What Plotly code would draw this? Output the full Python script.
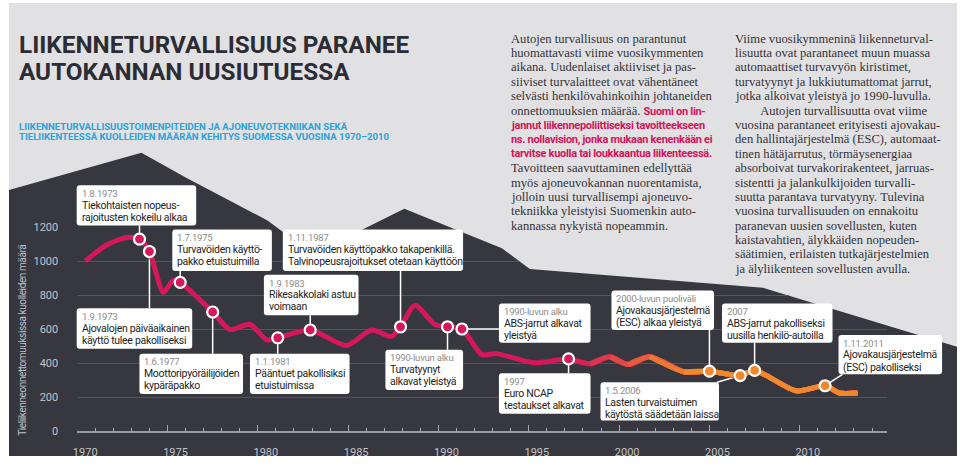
import plotly.graph_objects as go

W, H = 960, 468

# ---------------- data ----------------
years = [1970.45, 1971.6, 1972.75, 1973.45, 1974.0, 1974.77, 1975.3, 1975.7, 1977.5,
         1978.45, 1979.55, 1980.5, 1981.1, 1982.9, 1984.9, 1986.3, 1987.4, 1987.9,
         1988.7, 1989.8, 1990.5, 1991.3, 1992.4, 1993.2, 1995.3, 1997.2, 1998.4,
         1999.5, 2000.5, 2001.7, 2003.6, 2005.0, 2006.7, 2007.5, 2009.8, 2011.4,
         2012.2, 2013.2]
deaths = [1003, 1096, 1142, 1132, 1059, 819, 887, 877, 703,
          600, 631, 539, 551, 597, 506, 597, 559, 616,
          742, 630, 616, 603, 452, 458, 404, 427, 398,
          439, 394, 439, 350, 355, 329, 359, 239, 269,
          226, 226]

event_years = [1973.45, 1974.0, 1975.7, 1977.5, 1981.1, 1982.9, 1987.9,
               1990.5, 1991.3, 1997.2, 2005.0, 2006.7, 2007.5, 2011.4]
event_values = [1132, 1059, 877, 703, 551, 597, 616,
                616, 603, 427, 355, 329, 359, 269]
event_dates = ["1.8.1973", "1.9.1973", "1.7.1975", "1.6.1977", "1.1.1981", "1.9.1983",
               "1.11.1987", "1990-luvun alku", "1990-luvun alku", "1997",
               "2000-luvun puoliväli", "1.5.2006", "2007", "1.11.2011"]
event_lines = [
    ["Tiekohtaisten nopeus-", "rajoitusten kokeilu alkaa"],
    ["Ajovalojen päiväaikainen", "käyttö tulee pakolliseksi"],
    ["Turvavöiden käyttö-", "pakko etuistuimilla"],
    ["Moottoripyöräilijöiden", "kypäräpakko"],
    ["Pääntuet pakollisiksi", "etuistuimissa"],
    ["Rikesakkolaki astuu", "voimaan"],
    ["Turvavöiden käyttöpakko takapenkillä.", "Talvinopeusrajoitukset otetaan käyttöön"],
    ["Turvatyynyt", "alkavat yleistyä"],
    ["ABS-jarrut alkavat", "yleistyä"],
    ["Euro NCAP", "testaukset alkavat"],
    ["Ajovakausjärjestelmä", "(ESC) alkaa yleistyä"],
    ["Lasten turvaistuimen", "käytöstä säädetään laissa"],
    ["ABS-jarrut pakolliseksi", "uusilla henkilö-autoilla"],
    ["Ajovakausjärjestelmä", "(ESC) pakolliseksi"],
]

y_tick_values = [0, 200, 400, 600, 800, 1000, 1200]
y_tick_labels = ["0", "200", "400", "600", "800", "1000", "1200"]
grid_values = [200, 400, 600, 800, 1000]
x_tick_start, x_tick_step = 1970, 5

title_lines = ["LIIKENNETURVALLISUUS PARANEE", "AUTOKANNAN UUSIUTUESSA"]
subtitle_lines = ["LIIKENNETURVALLISUUSTOIMENPITEIDEN JA AJONEUVOTEKNIIKAN SEKÄ",
                  "TIELIIKENTEESSÄ KUOLLEIDEN MÄÄRÄN KEHITYS SUOMESSA VUOSINA 1970–2010"]
y_title = "Tieliikenneonnettomuuksissa kuolleiden määrä"

PINK_TXT = ("<b><span style='font-family:Roboto;font-size:11px;letter-spacing:-0.3px;"
            "color:#d4145a'>{}</span></b>")
col1 = [
    "Autojen turvallisuus on parantunut",
    "huomattavasti viime vuosikymmenten",
    "aikana. Uudenlaiset aktiiviset ja pas-",
    "siiviset turvalaitteet ovat vähentäneet",
    "selvästi henkilövahinkoihin johtaneiden",
    "onnettomuuksien määrää. " + PINK_TXT.format("Suomi on lin-"),
    PINK_TXT.format("jannut liikennepoliittiseksi tavoitteekseen"),
    PINK_TXT.format("ns. nollavision, jonka mukaan kenenkään ei"),
    PINK_TXT.format("tarvitse kuolla tai loukkaantua liikenteessä."),
    "Tavoitteen saavuttaminen edellyttää",
    "myös ajoneuvokannan nuorentamista,",
    "jolloin uusi turvallisempi ajoneuvo-",
    "tekniikka yleistyisi Suomenkin auto-",
    "kannassa nykyistä nopeammin.",
]
col2 = [
    "Viime vuosikymmeninä liikenneturval-",
    "lisuutta ovat parantaneet muun muassa",
    "automaattiset turvavyön kiristimet,",
    "turvatyynyt ja lukkiutumattomat jarrut,",
    "jotka alkoivat yleistyä jo 1990-luvulla.",
    "\u2003\u2003Autojen turvallisuutta ovat viime",
    "vuosina parantaneet erityisesti ajovakau-",
    "den hallintajärjestelmä (ESC), automaat-",
    "tinen hätäjarrutus, törmäysenergiaa",
    "absorboivat turvakorirakenteet, jarruas-",
    "sistentti ja jalankulkijoiden turvalli-",
    "suutta parantava turvatyyny. Tulevina",
    "vuosina turvallisuuden on ennakoitu",
    "paranevan uusien sovellusten, kuten",
    "kaistavahtien, älykkäiden nopeuden-",
    "säätimien, erilaisten tutkajärjestelmien",
    "ja älyliikenteen sovellusten avulla.",
]

# ---------------- layout geometry (pixels) ----------------
X_DOM_PX = (73.5, 887.0)
PX_PER_YEAR = 18.14
X_RANGE = [1970, 1970 + (X_DOM_PX[1] - X_DOM_PX[0]) / PX_PER_YEAR]
Y_ZERO_PX = 438.0
PX_PER_UNIT = 0.1725
Y_RANGE = [0, Y_ZERO_PX / PX_PER_UNIT]

def px(x):
    return x / W

def py(y):
    return 1 - y / H

def data_y_from_px(ypix):
    return (Y_ZERO_PX - ypix) / PX_PER_UNIT

def px_from_data_y(v):
    return Y_ZERO_PX - v * PX_PER_UNIT

def data_x_from_px(xpix):
    return X_RANGE[0] + (xpix - X_DOM_PX[0]) / PX_PER_YEAR

def cond(text, ls):
    return f"<span style='letter-spacing:{ls}px'>{text}</span>"

# dark silhouette top edge (pixels)
SIL_TOP = [(5, 193), (138, 155), (182, 180), (265, 224), (310, 258), (402, 212),
           (500, 252), (528, 273), (762, 292), (957, 352)]

def sil_top_at(x):
    for (xa, ya), (xb, yb) in zip(SIL_TOP[:-1], SIL_TOP[1:]):
        if xa <= x <= xb:
            return ya + (yb - ya) * (x - xa) / (xb - xa)
    return SIL_TOP[-1][1]

# box rectangles: left, top, right, bottom ; connector kind, target
boxes = [
    (73, 188, 193, 229, "v", 229),
    (73, 313, 189, 354, "v", 313),
    (169, 233, 269, 275, "v", 275),
    (136, 359, 240, 400, "v", 359),
    (247, 359, 347, 400, "v", 359),
    (261, 279, 356, 320, "v", 320),
    (280, 233, 461, 275, "v", 275),
    (383, 355, 461, 396, "v", 355),
    (497, 308, 589, 348, "h", 497),
    (497, 379, 589, 420, "v", 379),
    (610, 295, 713, 335, "v", 335),
    (599, 388, 718, 427, "d", (716, 388)),
    (721, 308, 832, 348, "v", 348),
    (838, 340, 942, 380, "d", (842, 380)),
]

PINK = (214, 23, 90)
ORANGE = (240, 137, 43)
GRAD_START, GRAD_END = 1997.2, 2003.6

def color_at(yr):
    t = (yr - GRAD_START) / (GRAD_END - GRAD_START)
    t = max(0.0, min(1.0, t))
    c = [round(a + (b - a) * t) for a, b in zip(PINK, ORANGE)]
    return f"rgb({c[0]},{c[1]},{c[2]})"

fig = go.Figure()

# horizontal grid lines, only where they lie on the dark silhouette
gx, gy = [], []
for g in grid_values:
    yg = px_from_data_y(g)
    x = X_DOM_PX[0]
    start = None
    while x <= X_DOM_PX[1]:
        dark = sil_top_at(x) < yg
        if dark and start is None:
            start = x
        if (not dark or x + 0.5 > X_DOM_PX[1]) and start is not None:
            gx += [data_x_from_px(start), data_x_from_px(x), None]
            gy += [g, g, None]
            start = None
        x += 0.5
fig.add_trace(go.Scatter(x=gx, y=gy, mode="lines", line=dict(color="#55555e", width=1),
                         hoverinfo="skip", showlegend=False))

# connectors
cx, cy = [], []
for yr, val, b in zip(event_years, event_values, boxes):
    kind, tgt = b[4], b[5]
    if kind == "v":
        cx += [yr, yr, None]
        cy += [val, data_y_from_px(tgt), None]
    elif kind == "h":
        cx += [yr, data_x_from_px(tgt), None]
        cy += [val, val, None]
    else:
        cx += [yr, data_x_from_px(tgt[0]), None]
        cy += [val, data_y_from_px(tgt[1]), None]
fig.add_trace(go.Scatter(x=cx, y=cy, mode="lines", line=dict(color="white", width=1.5),
                         hoverinfo="skip", showlegend=False))

# main line (pink base + overlays for colour gradient)
LINE_W = 5
SMOOTH = 0.7
fig.add_trace(go.Scatter(x=years, y=deaths, mode="lines",
                         line=dict(color=color_at(1970), width=LINE_W, shape="spline", smoothing=SMOOTH),
                         showlegend=False, hoverinfo="skip"))
for i in range(len(years) - 1):
    if GRAD_START <= years[i] <= GRAD_END:
        mid = (years[i] + years[i + 1]) / 2 if years[i] < GRAD_END else years[i]
        fig.add_trace(go.Scatter(x=years[i:], y=deaths[i:], mode="lines",
                                 line=dict(color=color_at(mid), width=LINE_W,
                                           shape="spline", smoothing=SMOOTH),
                                 showlegend=False, hoverinfo="skip"))

# event markers
fig.add_trace(go.Scatter(x=event_years, y=event_values, mode="markers",
                         marker=dict(size=11, color=[color_at(y) for y in event_years],
                                     line=dict(color="white", width=2.2)),
                         showlegend=False, hoverinfo="skip"))

shapes = []
# light panel
shapes.append(dict(type="rect", xref="paper", yref="paper", x0=px(5), x1=px(957),
                   y0=py(463), y1=py(3), fillcolor="#e1e1e3", line=dict(width=0), layer="below"))
# dark silhouette
sil = SIL_TOP + [(957, 463), (5, 463)]
path = "M " + " L ".join(f"{px(a):.5f},{py(b):.5f}" for a, b in sil) + " Z"
shapes.append(dict(type="path", xref="paper", yref="paper", path=path,
                   fillcolor="#37373f", line=dict(width=0), layer="below"))

def rrect(x0, y0, x1, y1, r=3):
    return (f"M {px(x0+r)},{py(y0)} L {px(x1-r)},{py(y0)} Q {px(x1)},{py(y0)} {px(x1)},{py(y0+r)} "
            f"L {px(x1)},{py(y1-r)} Q {px(x1)},{py(y1)} {px(x1-r)},{py(y1)} "
            f"L {px(x0+r)},{py(y1)} Q {px(x0)},{py(y1)} {px(x0)},{py(y1-r)} "
            f"L {px(x0)},{py(y0+r)} Q {px(x0)},{py(y0)} {px(x0+r)},{py(y0)} Z")

for b in boxes:
    shapes.append(dict(type="path", xref="paper", yref="paper", path=rrect(*b[:4]),
                       fillcolor="white", line=dict(width=0), layer="above"))

SANS = "Roboto, sans-serif"
ann = []
for b, date, lines in zip(boxes, event_dates, event_lines):
    x0, y0 = b[0], b[1]
    ann.append(dict(x=px(x0 + 3), y=py(y0 + 8.3), xref="paper", yref="paper",
                    text=cond(date, -0.2),
                    showarrow=False, xanchor="left", yanchor="middle",
                    font=dict(family=SANS, size=9.5, color="#8c8c8c")))
    for k, ln in enumerate(lines):
        ann.append(dict(x=px(x0 + 3), y=py(y0 + 20.3 + 12.3 * k), xref="paper", yref="paper",
                        text=cond(ln, -0.3), showarrow=False, xanchor="left", yanchor="middle",
                        font=dict(family=SANS, size=10.5, color="#1e1e22")))

# title & subtitle
for k, t in enumerate(title_lines):
    ann.append(dict(x=px(13), y=py(45 + 28 * k), xref="paper", yref="paper", text=f"<b>{t}</b>",
                    showarrow=False, xanchor="left", yanchor="middle",
                    font=dict(family=SANS, size=24.3, color="#2c2c34")))
for k, t in enumerate(subtitle_lines):
    ann.append(dict(x=px(13), y=py(128 + 11 * k), xref="paper", yref="paper", text=f"<b>{t}</b>",
                    showarrow=False, xanchor="left", yanchor="middle",
                    font=dict(family=SANS, size=9.6, color="#2aa3d9")))

# y title
ann.append(dict(x=px(19), y=py(345), xref="paper", yref="paper", text=cond(y_title, -0.4),
                textangle=-90, showarrow=False, xanchor="center", yanchor="middle",
                font=dict(family=SANS, size=10, color="#c0c0c6")))

# right-hand text columns
SERIF = "Liberation Serif, DejaVu Serif, serif"
for k, t in enumerate(col1):
    ann.append(dict(x=px(507), y=py(39.3 + 14.6 * k), xref="paper", yref="paper", text=t,
                    showarrow=False, xanchor="left", yanchor="middle",
                    font=dict(family=SERIF, size=12.6, color="#333338")))
for k, t in enumerate(col2):
    ann.append(dict(x=px(732), y=py(39.3 + 14.6 * k), xref="paper", yref="paper", text=t,
                    showarrow=False, xanchor="left", yanchor="middle",
                    font=dict(family=SERIF, size=12.6, color="#333338")))

fig.update_layout(
    width=W, height=H, margin=dict(l=0, r=0, t=0, b=0),
    paper_bgcolor="white", plot_bgcolor="rgba(0,0,0,0)",
    shapes=shapes, annotations=ann,
    xaxis=dict(domain=[px(X_DOM_PX[0]), px(X_DOM_PX[1])], range=X_RANGE,
               showgrid=False, zeroline=False, showline=True, linecolor="#9a9aa2", linewidth=1.5,
               ticks="inside", ticklen=7, tickwidth=1, tickcolor="#a8a8b0",
               tick0=x_tick_start, dtick=x_tick_step,
               minor=dict(dtick=1, ticks="inside", ticklen=4, tickwidth=1, tickcolor="#a8a8b0",
                          showgrid=False),
               tickfont=dict(family=SANS, size=11, color="#c4c4ca"),
               ticklabelshift=8, ticklabelstandoff=10, fixedrange=True),
    yaxis=dict(domain=[py(Y_ZERO_PX), 1], range=Y_RANGE, showgrid=False, zeroline=False,
               showline=False, tickvals=y_tick_values, ticktext=y_tick_labels, ticks="",
               ticklabelstandoff=18,
               tickfont=dict(family=SANS, size=11, color="#c4c4ca"),
               fixedrange=True),
    showlegend=False,
)

fig.write_html("out.html")
